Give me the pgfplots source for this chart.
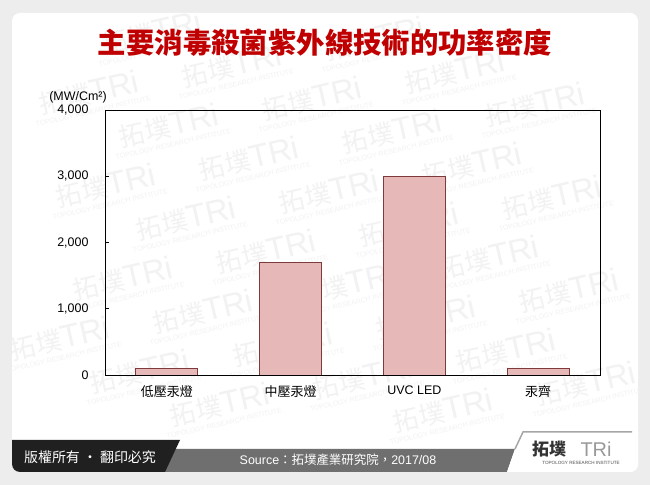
\documentclass[border=0pt]{standalone}
\usepackage{pgfplots}
\pgfplotsset{compat=1.18}
\usepackage{fontspec}
\setmainfont{Liberation Sans}
\newfontfamily\cjk{Noto Sans CJK TC}

\definecolor{bg}{HTML}{EDEDED}
\definecolor{barfill}{HTML}{E6B8B7}
\definecolor{baredge}{HTML}{7F3B3B}
\definecolor{titlered}{HTML}{C00000}
\definecolor{tabblack}{HTML}{202020}
\definecolor{bandgray}{HTML}{6F6F6F}
\definecolor{wm}{HTML}{F2F2F2}

\begin{document}
\begin{tikzpicture}[x=1bp,y=1bp]
% page and card
\fill[bg] (0,0) rectangle (650,485);
\fill[white, rounded corners=8bp] (12,13) rectangle (638,472);

\begin{scope}
\clip[rounded corners=8bp] (12,13) rectangle (638,472);
% watermark lattice, only where it falls on the card
\foreach \i in {-7,...,7}
  \foreach \j in {-6,...,6} {
    \pgfmathsetmacro\wx{170+80*\i+63*\j}
    \pgfmathsetmacro\wy{355-33*\i+60*\j}
    \pgfmathparse{and(and(\wx>60,\wx<590),and(\wy>55,\wy<455))}
    \ifdim\pgfmathresult pt>0.5pt
    \node[rotate=13, text=wm, align=center, inner sep=0pt] at (\wx,\wy)
      {{\cjk\fontsize{26}{26}\selectfont 拓墣}{\fontsize{32}{26}\selectfont TRi}\\[-1bp]
       {\fontsize{7}{7}\selectfont TOPOLOGY RESEARCH INSTITUTE}};
    \fi
  }
% bottom band
\fill[bandgray] (160,13) -- (170,36) -- (515,36) -- (507,13) -- cycle;
\fill[tabblack] (0,13) -- (0,45) -- (180,45) -- (165,13) -- cycle;
\fill[white] (515,36) -- (523,53) -- (640,53) -- (640,13) -- (507,13) -- cycle;
\end{scope}
\draw[black!35, line width=1.5bp] (515,36) -- (523,53) -- (632,53);

% title
\node[text=titlered, font=\cjk\bfseries\fontsize{28.5}{29}\selectfont] at (325,442)
  {主要消毒殺菌紫外線技術的功率密度};

% footer texts
\node[text=white, font=\cjk\fontsize{14}{14}\selectfont] at (90,28) {版權所有 · 翻印必究};
\node[text=white, font=\fontsize{12.5}{13}\selectfont] at (338,25)
  {Source{\cjk：拓墣產業研究院，}2017/08};
\node[text=black!80, font=\cjk\bfseries\fontsize{17}{17}\selectfont, inner sep=0pt] at (549,36) {拓墣};
\node[text=black!40, font=\fontsize{20}{20}\selectfont, inner sep=0pt] at (596,36) {TRi};
\node[text=black!70, font=\fontsize{4.6}{5}\selectfont, inner sep=0pt] at (581,22) {TOPOLOGY RESEARCH INSTITUTE};

% unit
\node[font=\fontsize{12.5}{13}\selectfont] at (78,388) {(MW/Cm²)};

\begin{axis}[
  at={(105bp,110bp)}, anchor=south west,
  width=495bp, height=265bp, scale only axis,
  xmin=-0.5, xmax=3.5, ymin=0, ymax=4000,
  ybar, bar width=62bp,
  xtick={0,1,2,3},
  xticklabels={{\cjk\fontsize{13}{14}\selectfont 低壓汞燈},{\cjk\fontsize{13}{14}\selectfont 中壓汞燈},{UVC LED},{\cjk\fontsize{13}{14}\selectfont 汞齊}},
  ytick={0,1000,2000,3000,4000},
  scaled y ticks=false,
  yticklabel style={/pgf/number format/1000 sep={,}, xshift=-13bp},
  xticklabel style={yshift=-7bp},
  /pgf/number format/assume math mode=true,
  tick label style={font=\fontsize{12.5}{13}\selectfont},
  major x tick style={draw=none},
  tick align=inside, major tick length=4bp,
  ytick pos=left,
  axis line style={black, line width=0.8bp},
  tick style={black, line width=0.8bp},
]
\addplot[fill=barfill, draw=baredge, line width=0.8bp]
  coordinates {(0,100) (1,1700) (2,3000) (3,100)};
\end{axis}
\end{tikzpicture}
\end{document}
